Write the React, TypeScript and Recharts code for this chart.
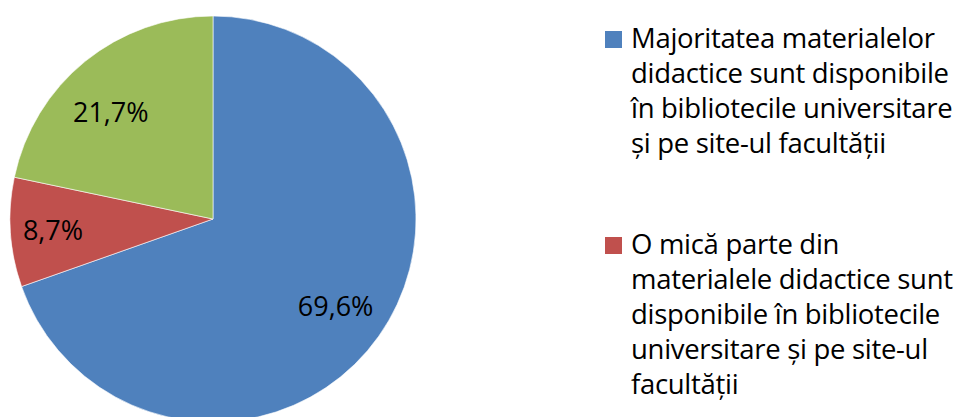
import { PieChart, Pie, Cell, Legend } from "recharts";

const names = [
  "Majoritatea materialelor\ndidactice sunt disponibile\nîn bibliotecile universitare\nși pe site-ul facultății",
  "O mică parte din\nmaterialele didactice sunt\ndisponibile în bibliotecile\nuniversitare și pe site-ul\nfacultății",
  "Niciun material didactic nu este disponibil",
];
const values = [69.6, 8.7, 21.7];
const colors = ["#4F81BD", "#C0504D", "#9BBB59"];
const legendCount = 2;

const data = names.map((name, i) => ({ name, value: values[i] }));

const FONT = "'Open Sans', 'Noto Sans', sans-serif";
const RAD = Math.PI / 180;

// label placement tweaks (Excel "best fit" puts them slightly off the mid-angle)
const labelRadius = [0.74, 0.79, 0.732];
const labelTurn = [0, 0, 4.4];

function renderLabel(props: any) {
  const { cx, cy, midAngle, outerRadius, value, index } = props;
  const r = outerRadius * labelRadius[index];
  const a = (midAngle + labelTurn[index]) * RAD;
  const x = cx + r * Math.cos(-a);
  const y = cy + r * Math.sin(-a);
  return (
    <text
      x={x}
      y={y}
      fill="#000"
      textAnchor="middle"
      dominantBaseline="central"
      fontSize={27}
      fontFamily={FONT}
    >
      {value.toFixed(1).replace(".", ",")}%
    </text>
  );
}

function renderLegend() {
  return (
    <div style={{ fontFamily: FONT, fontSize: 27.5, lineHeight: "35px", color: "#000" }}>
      {data.slice(0, legendCount).map((d, i) => (
        <div key={d.name} style={{ display: "flex", marginBottom: i === 0 ? 66 : 0 }}>
          <div
            style={{
              width: 17,
              height: 17,
              background: colors[i],
              marginTop: 11,
              marginRight: 9,
              flexShrink: 0,
            }}
          />
          <div style={{ whiteSpace: "pre", letterSpacing: -0.3 }}>{d.name}</div>
        </div>
      ))}
    </div>
  );
}

export default function App() {
  return (
    <div style={{ position: "absolute", left: 0, top: 0, width: 964, height: 417, background: "#fff", overflow: "hidden" }}>
      <PieChart width={964} height={417} margin={{ top: 0, right: 0, bottom: 0, left: 0 }}>
        <Pie
          data={data}
          dataKey="value"
          cx={213}
          cy={219}
          outerRadius={203}
          startAngle={90}
          endAngle={-270}
          stroke="#fff"
          strokeWidth={0.6}
          label={renderLabel}
          labelLine={false}
          isAnimationActive={false}
        >
          {data.map((d, i) => (
            <Cell key={d.name} fill={colors[i]} />
          ))}
        </Pie>
        <Legend
          content={renderLegend}
          wrapperStyle={{ position: "absolute", left: 605, top: 20, width: 360 }}
        />
      </PieChart>
    </div>
  );
}
